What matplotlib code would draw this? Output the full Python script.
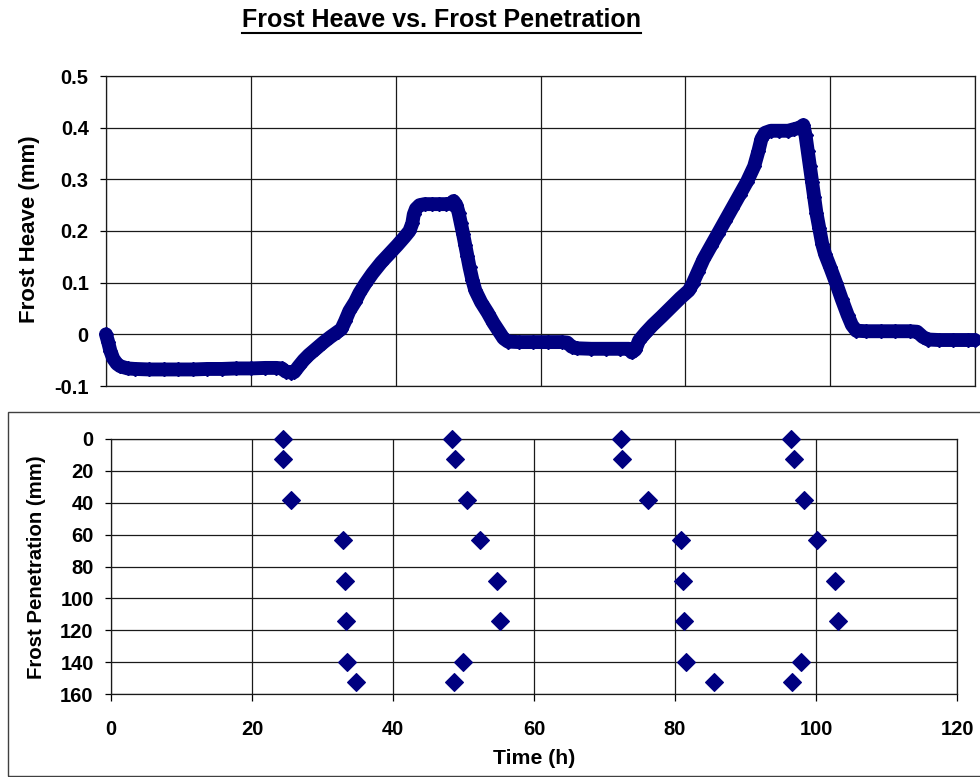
import matplotlib
matplotlib.use('Agg')
import matplotlib.pyplot as plt
from matplotlib.patches import Rectangle
from matplotlib.lines import Line2D

plt.rcParams['font.family'] = ['Liberation Sans', 'DejaVu Sans']
plt.rcParams['font.weight'] = 'bold'

# ---------------- data ----------------
heave_time = [0.0, 0.3, 0.6, 1.0, 1.5, 2.0, 3.0, 4.0, 6.0, 8.0, 10.0, 12.0, 14.0, 16.0,
              18.0, 20.0, 22.0, 23.5, 24.3, 24.8, 25.5, 26.0, 26.6, 27.3, 28.0, 29.0,
              30.0, 31.0, 32.0, 32.5, 33.0, 33.6, 34.4, 35.0, 35.8, 36.8, 38.0, 39.2,
              40.2, 41.2, 41.9, 42.3, 42.5, 42.8, 43.3, 44.0, 45.0, 46.0, 47.0, 47.6,
              48.0, 48.4, 48.7, 49.0, 49.3, 49.6, 49.9, 50.2, 50.6, 51.0, 51.8, 52.7,
              53.5, 54.3, 54.9, 55.5, 57.0, 59.0, 61.0, 63.0, 63.7, 64.3, 65.0, 67.0,
              69.0, 71.0, 72.2, 72.6, 73.1, 73.6, 74.5, 75.5, 76.7, 78.0, 79.3, 80.5,
              81.0, 81.7, 82.5, 83.5, 84.5, 85.5, 86.5, 87.5, 88.5, 89.5, 90.1, 90.5,
              91.0, 91.8, 93.0, 94.2, 95.0, 95.8, 96.3, 96.6, 96.9, 97.2, 97.5, 97.8,
              98.1, 98.5, 98.9, 99.3, 100.0, 100.8, 101.6, 102.4, 103.0, 103.6, 105.0,
              107.0, 109.0, 111.0, 112.0, 112.8, 113.5, 115.0, 117.0, 119.0, 120.0]
heave_mm = [0.000, -0.015, -0.032, -0.047, -0.057, -0.062, -0.066, -0.067, -0.068, -0.068,
            -0.068, -0.068, -0.067, -0.067, -0.066, -0.066, -0.065, -0.065, -0.066, -0.072,
            -0.074, -0.073, -0.062, -0.050, -0.040, -0.028, -0.016, -0.005, 0.005, 0.010,
            0.025, 0.045, 0.063, 0.080, 0.098, 0.118, 0.139, 0.157, 0.172, 0.188, 0.200,
            0.215, 0.232, 0.243, 0.250, 0.252, 0.252, 0.252, 0.252, 0.253, 0.258, 0.250,
            0.235, 0.215, 0.195, 0.173, 0.152, 0.130, 0.105, 0.085, 0.062, 0.042, 0.022,
            0.005, -0.008, -0.014, -0.015, -0.015, -0.015, -0.015, -0.016, -0.024, -0.027,
            -0.028, -0.028, -0.028, -0.028, -0.035, -0.030, -0.012, 0.003, 0.018, 0.034,
            0.052, 0.070, 0.085, 0.098, 0.120, 0.145, 0.170, 0.195, 0.220, 0.245, 0.270,
            0.295, 0.325, 0.355, 0.378, 0.390, 0.394, 0.394, 0.394, 0.397, 0.400, 0.405,
            0.385, 0.355, 0.325, 0.295, 0.265, 0.235, 0.205, 0.175, 0.155, 0.130, 0.100,
            0.068, 0.038, 0.018, 0.007, 0.006, 0.006, 0.006, 0.006, 0.005, -0.005, -0.010,
            -0.011, -0.011, -0.011, -0.011]

pen_time = [24.35, 24.4, 25.5, 32.9, 33.2, 33.3, 33.5, 34.7,
            48.4, 48.8, 50.5, 52.3, 54.7, 55.2, 49.9, 48.7,
            72.4, 72.5, 76.2, 80.9, 81.2, 81.3, 81.6, 85.5,
            96.4, 96.9, 98.3, 100.2, 102.7, 103.1, 97.9, 96.6]
pen_depth = [0, 12.7, 38.1, 63.5, 88.9, 114.3, 139.7, 152.4,
             0, 12.7, 38.1, 63.5, 88.9, 114.3, 139.7, 152.4,
             0, 12.7, 38.1, 63.5, 88.9, 114.3, 139.7, 152.4,
             0, 12.7, 38.1, 63.5, 88.9, 114.3, 139.7, 152.4]

x_ticks = [0, 20, 40, 60, 80, 100, 120]
heave_ticks = [-0.1, 0, 0.1, 0.2, 0.3, 0.4, 0.5]
heave_tick_labels = ['-0.1', '0', '0.1', '0.2', '0.3', '0.4', '0.5']
pen_ticks = [0, 20, 40, 60, 80, 100, 120, 140, 160]

title_text = 'Frost Heave vs. Frost Penetration'
heave_label = 'Frost Heave (mm)'
pen_label = 'Frost Penetration (mm)'
time_label = 'Time (h)'

# ---------------- figure ----------------
NAVY = '#000080'
GRID = '#1a1a1a'
W, H = 980, 777
fig = plt.figure(figsize=(W / 100, H / 100), dpi=100)


def rect(l, t, r, b):
    return [l / W, 1 - b / H, (r - l) / W, (b - t) / H]


# outer frame of lower chart
fig.patches.append(Rectangle((8 / W, 1 - 775.5 / H), (995 - 8) / W, (775.5 - 412) / H,
                             transform=fig.transFigure, fill=False,
                             edgecolor='#404040', lw=1.0))

# ---- upper chart ----
ax1 = fig.add_axes(rect(106, 76, 975, 386))
ax1.plot(heave_time, heave_mm, color=NAVY, lw=10, marker='D', ms=7, mec=NAVY,
         solid_capstyle='round', solid_joinstyle='round', clip_on=False, zorder=3)
ax1.set_xlim(0, 120)
ax1.set_ylim(-0.1, 0.5)
ax1.set_xticks(x_ticks)
ax1.set_yticks(heave_ticks)
ax1.set_yticklabels(heave_tick_labels)
ax1.grid(True, color=GRID, lw=0.9)
ax1.set_axisbelow(True)
ax1.tick_params(axis='x', length=0, labelbottom=False)
ax1.tick_params(axis='y', direction='out', length=4.5, width=0.9, pad=8, labelsize=14.5)
for s in ax1.spines.values():
    s.set_color(GRID)
    s.set_linewidth(0.9)

# ---- lower chart ----
ax2 = fig.add_axes(rect(111, 439, 957, 694))
ax2.plot(pen_time, pen_depth, linestyle='none', marker='D', ms=9.6, color=NAVY,
         mec=NAVY, mew=0.8, clip_on=False, zorder=3)
ax2.set_xlim(0, 120)
ax2.set_ylim(160, 0)
ax2.set_xticks(x_ticks)
ax2.set_yticks(pen_ticks)
ax2.grid(True, color=GRID, lw=0.9)
ax2.set_axisbelow(True)
ax2.tick_params(axis='x', direction='out', length=5, width=0.9, pad=13.5, labelsize=14.5)
ax2.tick_params(axis='y', direction='out', length=4.5, width=0.9, pad=8, labelsize=14.5)
for s in ax2.spines.values():
    s.set_color(GRID)
    s.set_linewidth(0.9)

# ---- labels ----
fig.text(30 / W, 1 - 229 / H, heave_label, rotation=90, ha='center', va='center',
         fontsize=16, fontweight='bold')
fig.text(37 / W, 1 - 567 / H, pen_label, rotation=90, ha='center', va='center',
         fontsize=14.7, fontweight='bold')
fig.text(534 / W, 1 - 758 / H, time_label, ha='center', va='center',
         fontsize=15.3, fontweight='bold')

title = fig.text(441 / W, 1 - 20 / H, title_text, ha='center', va='center',
                 fontsize=18, fontweight='bold')
fig.canvas.draw()
bb = title.get_window_extent(fig.canvas.get_renderer())
uy = (H - 32.5) / H
fig.add_artist(Line2D([bb.x0 / W, bb.x1 / W], [uy, uy], transform=fig.transFigure,
                      color='black', lw=1.5))

fig.savefig('out.png', dpi=100)
